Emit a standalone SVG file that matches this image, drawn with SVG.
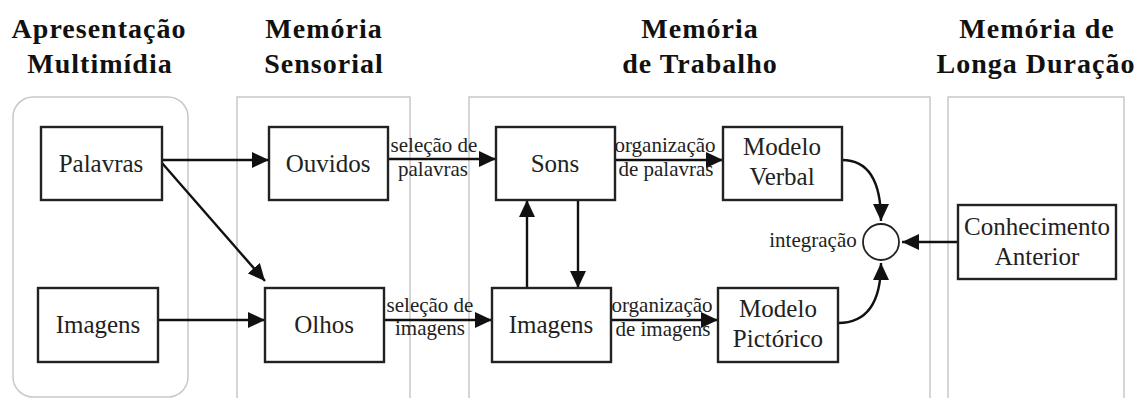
<svg xmlns="http://www.w3.org/2000/svg" width="1139" height="398" viewBox="0 0 1139 398">
<style>
.hdr{font-family:"Liberation Serif","Times New Roman",serif;font-weight:bold;font-size:28px;letter-spacing:1px;text-anchor:middle;fill:#111}
.panel{fill:#fff;stroke:#c8c8c8;stroke-width:1.5}
.box{fill:#fff;stroke:#222;stroke-width:2.4}
.nt{font-family:"Liberation Serif","Times New Roman",serif;font-size:25px;text-anchor:middle;fill:#222}
.lt{font-family:"Liberation Serif","Times New Roman",serif;font-size:21px;text-anchor:middle;fill:#222}
.c{fill:none;stroke:#111;stroke-width:2.4;marker-end:url(#ah)}
</style>
<defs>
<marker id="ah" markerUnits="userSpaceOnUse" markerWidth="18" markerHeight="16" refX="17" refY="8" orient="auto">
<path d="M0,0 L17,8 L0,16 z" fill="#111"/>
</marker>
</defs>
<rect width="1139" height="398" fill="#fff"/>
<g id="headers">
<text class="hdr" x="99" y="38">Apresentação</text>
<text class="hdr" x="100" y="73">Multimídia</text>
<text class="hdr" x="324" y="38">Memória</text>
<text class="hdr" x="324" y="73">Sensorial</text>
<text class="hdr" x="700" y="38">Memória</text>
<text class="hdr" x="700" y="73">de Trabalho</text>
<text class="hdr" x="1037" y="38">Memória de</text>
<text class="hdr" x="1036" y="73">Longa Duração</text>
</g>
<g id="panels">
<rect class="panel" x="13" y="97" width="175" height="300" rx="20"/>
<rect class="panel" x="237" y="97" width="173" height="320"/>
<rect class="panel" x="469" y="97" width="461" height="320"/>
<rect class="panel" x="948" y="97" width="176" height="320"/>
</g>
<g id="connectors">
<line class="c" x1="162" y1="160" x2="269" y2="160"/>
<line class="c" x1="162" y1="163" x2="265" y2="281"/>
<line class="c" x1="158" y1="320" x2="265" y2="320"/>
<line class="c" x1="388" y1="159" x2="496" y2="159"/>
<line class="c" x1="384" y1="320" x2="492" y2="320"/>
<line class="c" x1="615" y1="160" x2="723" y2="160"/>
<line class="c" x1="611" y1="320" x2="718" y2="320"/>
<line class="c" x1="527" y1="288" x2="527" y2="200"/>
<line class="c" x1="578" y1="200" x2="578" y2="288"/>
<path class="c" d="M842,160 Q881,160 881,221"/>
<path class="c" d="M838,323 Q881,323 881,263"/>
<line class="c" x1="958" y1="242" x2="902" y2="242"/>
<text class="lt" x="434" y="152">seleção de</text>
<text class="lt" x="433" y="176">palavras</text>
<text class="lt" x="665" y="152">organização</text>
<text class="lt" x="666" y="176">de palavras</text>
<text class="lt" x="430" y="312">seleção de</text>
<text class="lt" x="430" y="335">imagens</text>
<text class="lt" x="662" y="312">organização</text>
<text class="lt" x="663" y="336">de imagens</text>
<text class="lt" x="813" y="247">integração</text>
</g>
<g id="palavras"><rect class="box" x="41" y="127" width="121" height="73"/><text class="nt" x="101" y="172">Palavras</text></g>
<g id="imagens-in"><rect class="box" x="38" y="288" width="120" height="74"/><text class="nt" x="98" y="333">Imagens</text></g>
<g id="ouvidos"><rect class="box" x="269" y="127" width="119" height="73"/><text class="nt" x="328" y="172">Ouvidos</text></g>
<g id="olhos"><rect class="box" x="265" y="288" width="119" height="74"/><text class="nt" x="324" y="333">Olhos</text></g>
<g id="sons"><rect class="box" x="496" y="127" width="119" height="73"/><text class="nt" x="555" y="172">Sons</text></g>
<g id="imagens-wm"><rect class="box" x="492" y="288" width="119" height="74"/><text class="nt" x="551" y="333">Imagens</text></g>
<g id="modelo-verbal"><rect class="box" x="723" y="127" width="119" height="73"/><text class="nt" x="782" y="155">Modelo</text><text class="nt" x="782" y="185">Verbal</text></g>
<g id="modelo-pictorico"><rect class="box" x="718" y="288" width="120" height="74"/><text class="nt" x="778" y="317">Modelo</text><text class="nt" x="778" y="347">Pictórico</text></g>
<g id="integracao"><circle cx="881" cy="242" r="18" fill="#fff" stroke="#222" stroke-width="1.8"/></g>
<g id="conhecimento"><rect class="box" x="958" y="205" width="158" height="74"/><text class="nt" x="1037" y="235">Conhecimento</text><text class="nt" x="1037" y="265">Anterior</text></g>
</svg>
